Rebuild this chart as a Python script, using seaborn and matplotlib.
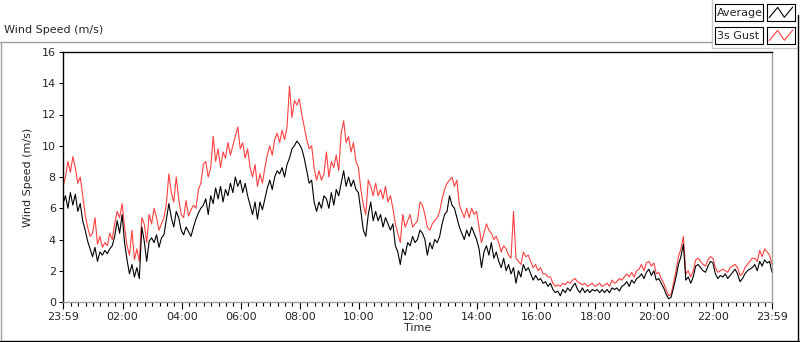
import numpy as np
import pandas as pd
import matplotlib
matplotlib.use("Agg")
import matplotlib.pyplot as plt
from matplotlib.lines import Line2D
from matplotlib.patches import Rectangle
import seaborn as sns

# ------------------------------------------
# Data (5 minute samples, 23:59 -> 23:59)
# ------------------------------------------
avg_speed = [
    6.3, 6.8, 6.0, 7.0, 6.2, 6.9, 5.8, 6.3, 5.2, 4.6, 3.9, 3.4,
    2.9, 3.5, 2.6, 3.2, 3.0, 3.3, 3.1, 3.4, 3.6, 4.2, 5.2, 4.4,
    5.6, 3.8, 2.7, 1.8, 2.4, 1.6, 2.2, 1.5, 4.8, 3.9, 2.6, 3.9,
    4.1, 3.8, 4.3, 3.5, 4.1, 4.3, 5.3, 6.3, 5.4, 4.8, 5.8, 5.4,
    4.6, 4.3, 4.8, 4.5, 4.2, 4.8, 5.3, 5.7, 6.0, 6.2, 6.6, 5.6,
    6.8, 6.3, 7.3, 6.6, 7.4, 6.4, 7.2, 6.8, 7.6, 7.0, 8.0, 7.4,
    7.8, 7.0, 7.6, 6.8, 6.2, 5.6, 6.4, 5.3, 6.4, 5.9, 6.6, 7.3,
    7.8, 7.2, 8.0, 8.4, 8.2, 8.6, 8.0, 8.8, 9.2, 9.8, 10.0, 10.3,
    10.1, 9.8, 9.2, 8.4, 7.6, 7.8, 6.4, 5.8, 6.4, 6.0, 6.8, 6.6,
    6.0, 7.0, 6.2, 7.2, 6.8, 7.6, 8.4, 7.4, 8.0, 7.4, 7.8, 7.2,
    7.0, 5.8, 4.6, 4.2, 5.6, 6.4, 5.2, 5.8, 5.2, 5.6, 4.8, 5.4,
    5.0, 4.6, 5.0, 3.6, 3.2, 2.4, 3.4, 3.0, 3.8, 3.6, 4.2, 3.8,
    4.0, 4.6, 4.4, 4.0, 3.0, 3.8, 3.4, 4.0, 3.8, 4.2, 5.0, 5.6,
    5.8, 6.8, 6.2, 6.0, 5.4, 4.8, 4.4, 4.0, 4.6, 4.2, 4.8, 4.4,
    4.0, 3.4, 2.2, 3.2, 3.6, 3.0, 3.8, 2.8, 3.2, 2.6, 2.2, 2.8,
    2.0, 2.4, 1.8, 2.2, 1.2, 2.0, 1.6, 2.4, 2.0, 2.2, 1.8, 1.4,
    1.7, 1.4, 1.5, 1.2, 1.3, 1.0, 1.2, 0.8, 0.6, 0.7, 0.4, 0.8,
    0.6, 0.9, 0.7, 1.0, 1.2, 0.8, 0.6, 0.9, 0.6, 0.8, 0.6, 0.8,
    0.7, 0.8, 0.6, 0.8, 0.6, 0.8, 0.6, 0.9, 0.8, 0.9, 0.7, 1.0,
    1.1, 1.3, 1.0, 1.4, 1.2, 1.5, 1.6, 1.8, 1.5, 1.9, 2.1, 1.7,
    2.0, 1.4, 1.5, 1.2, 0.9, 0.5, 0.2, 0.3, 0.9, 1.6, 2.4, 2.9,
    3.7, 1.4, 1.6, 1.2, 1.6, 2.3, 2.4, 2.2, 2.0, 1.9, 2.3, 2.6,
    2.5, 1.8, 1.5, 1.7, 1.6, 1.8, 1.5, 1.7, 1.9, 2.1, 1.8, 1.3,
    1.5, 1.8, 2.0, 2.1, 2.2, 2.4, 2.0, 2.6, 2.3, 2.7, 2.5, 2.6,
    1.9,
]

gust_speed = [
    7.4, 8.0, 9.0, 8.3, 9.3, 8.6, 7.6, 8.0, 6.8, 5.6, 4.8, 4.2,
    4.4, 5.4, 3.7, 4.2, 3.5, 3.8, 3.6, 4.4, 4.0, 5.0, 5.8, 5.4,
    6.3, 4.8, 3.6, 3.0, 4.6, 2.7, 3.4, 2.6, 5.4, 5.0, 3.8, 5.6,
    5.0, 6.0, 5.4, 4.6, 5.0, 5.4, 6.3, 8.2, 7.0, 6.4, 8.0, 6.6,
    5.6, 5.4, 6.5, 5.5, 5.9, 6.2, 6.0, 7.2, 7.6, 8.8, 9.0, 8.0,
    8.6, 10.6, 9.0, 9.8, 8.6, 9.6, 9.2, 10.2, 9.4, 10.0, 10.6, 11.2,
    9.8, 10.2, 9.2, 9.8, 8.6, 8.0, 8.8, 7.4, 8.2, 7.6, 8.6, 9.4,
    10.0, 9.4, 10.4, 10.8, 10.2, 11.0, 10.4, 11.2, 13.8, 11.8, 12.9, 12.6,
    13.0, 12.0, 11.2, 10.4, 9.8, 10.0, 8.6, 7.8, 8.4, 7.8, 8.2, 9.6,
    8.0, 9.0, 8.6, 9.4, 8.4, 10.8, 11.6, 10.2, 10.6, 9.6, 10.2, 9.0,
    8.6, 7.2, 6.2, 5.6, 7.8, 7.4, 6.8, 7.6, 6.8, 7.2, 6.6, 7.4,
    6.4, 6.8, 6.0, 5.0, 4.4, 3.8, 5.6, 4.8, 5.2, 5.6, 4.8, 5.0,
    5.2, 6.4, 6.2, 5.6, 4.8, 4.6, 5.0, 5.2, 5.4, 5.8, 6.6, 7.2,
    7.6, 7.8, 8.0, 7.4, 7.8, 6.2, 5.8, 5.4, 6.0, 5.4, 6.0, 5.6,
    5.8, 4.8, 3.8, 4.4, 5.0, 4.6, 4.4, 4.0, 4.2, 3.8, 3.2, 3.6,
    3.4, 3.0, 2.8, 5.8, 2.8, 2.6, 2.4, 3.2, 2.9, 3.0, 2.6, 2.2,
    2.4, 2.0, 2.2, 1.8, 1.8, 1.6, 1.6, 1.2, 1.0, 1.1, 1.0, 1.2,
    1.1, 1.3, 1.2, 1.4, 1.5, 1.3, 1.2, 1.1, 1.2, 1.0, 1.1, 1.2,
    1.0, 1.1, 1.2, 1.0, 1.1, 1.2, 1.0, 1.4, 1.2, 1.3, 1.5, 1.4,
    1.6, 1.8, 1.6, 1.9, 1.6, 2.0, 2.1, 2.4, 2.0, 2.5, 2.6, 2.3,
    2.5, 1.8, 1.9, 1.5, 1.2, 0.8, 0.4, 0.5, 1.2, 2.0, 2.9, 3.4,
    4.2, 1.8, 2.0, 1.6, 2.0, 2.7, 2.8, 2.6, 2.4, 2.3, 2.7, 2.9,
    2.8, 2.2, 1.9, 2.0, 2.1, 2.0, 1.9, 2.2, 2.3, 2.4, 2.2, 1.7,
    1.8, 2.2, 2.4, 2.6, 2.8, 2.8, 2.6, 3.3, 2.9, 3.4, 3.2, 3.0,
    2.4,
]

# minutes after 23:59 for each sample
minutes = np.arange(0, 1441, 5)

tick_minutes = [0, 121, 241, 361, 481, 601, 721, 841, 961, 1081, 1201, 1321, 1440]
tick_labels = ["23:59", "02:00", "04:00", "06:00", "08:00", "10:00", "12:00",
               "14:00", "16:00", "18:00", "20:00", "22:00", "23:59"]

df = pd.DataFrame({"minute": minutes, "Average": avg_speed, "3s Gust": gust_speed})

# ------------------------------------------
# Style
# ------------------------------------------
sns.set_style("white")
plt.rcParams["font.family"] = ["DejaVu Sans"]
plt.rcParams["font.size"] = 8

W, H = 800, 342
fig = plt.figure(figsize=(8.0, 3.42), dpi=100)
ax = fig.add_axes([63 / W, 1 - 302 / H, (772 - 63) / W, (302 - 52) / H])

sns.lineplot(data=df, x="minute", y="3s Gust", color="#ff4040", linewidth=0.8,
             estimator=None, ax=ax)
sns.lineplot(data=df, x="minute", y="Average", color="black", linewidth=0.8,
             estimator=None, ax=ax)

ax.set_xlim(0, 1440)
ax.set_ylim(0, 16)
ax.set_yticks(range(0, 17, 2))
ax.set_xticks(tick_minutes)
ax.set_xticklabels(tick_labels)
ax.set_xticks(np.arange(1, 1440, 15), minor=True)

ax.tick_params(axis="y", which="major", direction="out", length=3.2, width=0.8,
               color="black", left=True, pad=2)
ax.tick_params(axis="x", which="major", direction="out", length=5, width=0.8,
               color="black", bottom=True, pad=2)
ax.tick_params(axis="x", which="minor", direction="out", length=3, width=0.8,
               color="black", bottom=True)

for side in ["top", "left"]:
    ax.spines[side].set_color("black")
    ax.spines[side].set_linewidth(1.0)
for side in ["right", "bottom"]:
    ax.spines[side].set_color("#a0a0a0")
    ax.spines[side].set_linewidth(1.0)

ax.set_xlabel("Time", labelpad=1)
ax.set_ylabel("Wind Speed (m/s)", labelpad=6)
ax.grid(False)


# ------------------------------------------
# Panel frame, title and legend boxes
# ------------------------------------------
def px(x, y):
    return x / W, 1 - y / H


def fig_line(x0, y0, x1, y1, color, lw=1.0):
    (a, b), (c, d) = px(x0, y0), px(x1, y1)
    fig.add_artist(Line2D([a, c], [b, d], color=color, lw=lw))


fig_line(0, 42, 712, 42, "#a0a0a0")
fig_line(1, 42, 1, 341, "#a0a0a0")
fig_line(0, 340.5, 800, 340.5, "black")
fig_line(712, 0, 712, 48, "#c8c8c8")
fig_line(712, 48, 798, 48, "#c8c8c8")
fig_line(798, 15, 798, 341, "black")

fig.text(4 / W, 1 - 30 / H, "Wind Speed (m/s)", ha="left", va="center", fontsize=8)

legend_rows = [("Average", "black", 4), ("3s Gust", "#ff4040", 27)]
for label, color, top in legend_rows:
    x0, y0 = px(715, top + 17)
    fig.add_artist(Rectangle((x0, y0), 48 / W, 17 / H, transform=fig.transFigure,
                             facecolor="white", edgecolor="black", lw=0.8))
    fig.text(717 / W, 1 - (top + 9) / H, label, ha="left", va="center", fontsize=8)
    ix, iy = px(767, top + 17)
    icon = fig.add_axes([ix, iy, 28 / W, 17 / H])
    icon.plot([0.08, 0.38, 0.62, 0.92], [0.2, 0.8, 0.22, 0.82], color=color, lw=0.8)
    icon.set_xlim(0, 1)
    icon.set_ylim(0, 1)
    icon.set_xticks([])
    icon.set_yticks([])
    for s in icon.spines.values():
        s.set_color("black")
        s.set_linewidth(0.8)

fig.savefig("out.png", dpi=100)
